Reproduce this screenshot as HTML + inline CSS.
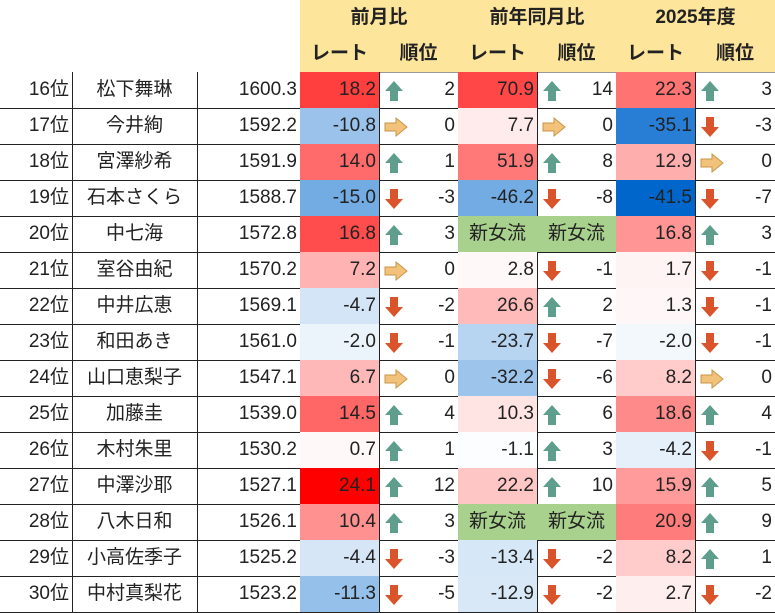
<!DOCTYPE html>
<html><head><meta charset="utf-8"><style>
body{margin:0;width:775px;height:613px;background:#fff;overflow:hidden;font-family:"Liberation Sans","Noto Sans CJK JP",sans-serif;}
#t{position:relative;width:775px;height:613px;}
.c{position:absolute;box-sizing:border-box;border-right:1px solid #222;border-bottom:1px solid #222;font-size:19px;line-height:35px;color:#222;white-space:nowrap;}
.h{background:#fde59c;font-weight:bold;text-align:center;font-size:19px;border-color:#999;}
.r{text-align:right;padding-right:3px;}
.ctr{text-align:center;}
.new{background:#a9d18e;text-align:center;}
svg.a{position:absolute;left:5px;top:8px;}
</style></head><body>
<div id="t"></div>
<script>
const ranks=[16,17,18,19,20,21,22,23,24,25,26,27,28,29,30];
const names=["松下舞琳","今井絢","宮澤紗希","石本さくら","中七海","室谷由紀","中井広恵","和田あき","山口恵梨子","加藤圭","木村朱里","中澤沙耶","八木日和","小高佐季子","中村真梨花"];
const ratings=["1600.3","1592.2","1591.9","1588.7","1572.8","1570.2","1569.1","1561.0","1547.1","1539.0","1530.2","1527.1","1526.1","1525.2","1523.2"];
const momRate=[18.2,-10.8,14.0,-15.0,16.8,7.2,-4.7,-2.0,6.7,14.5,0.7,24.1,10.4,-4.4,-11.3];
const momRank=[2,0,1,-3,3,0,-2,-1,0,4,1,12,3,-3,-5];
const yoyRate=[70.9,7.7,51.9,-46.2,null,2.8,26.6,-23.7,-32.2,10.3,-1.1,22.2,null,-13.4,-12.9];
const yoyRank=[14,0,8,-8,null,-1,2,-7,-6,6,3,10,null,-2,-2];
const ytdRate=[22.3,-35.1,12.9,-41.5,16.8,1.7,1.3,-2.0,8.2,18.6,-4.2,15.9,20.9,8.2,2.7];
const ytdRank=[3,-3,0,-7,3,-1,-1,-1,0,4,-1,5,9,1,-2];

const T=document.getElementById('t');
const X=[0,72,197,300,379,458,537,616,695,775];
const top0=72,RH=36;
function cell(x0,x1,y,h,cls,html,name){
  const d=document.createElement('div');
  d.className='c '+cls;
  d.style.left=x0+'px';d.style.top=y+'px';d.style.width=(x1-x0+1)+'px';d.style.height=(h+1)+'px';
  d.innerHTML=html;
  
  
  T.appendChild(d);return d;
}
// headers
[["前月比",3],["前年同月比",5],["2025年度",7]].forEach(([t,i])=>{
  cell(X[i],X[i+2],0,36,'h',t,'group-header');
  cell(X[i],X[i+1],36,36,'h','レート','rate-header');
  cell(X[i+1],X[i+2],36,36,'h','順位','rank-header');
});
function lerp(a,b,t){return Math.round(a+(b-a)*t);}
function col(v,posK,negMin,negK){
  if(v===null)return null;
  if(v>=0){const t=Math.min(1,v/posK.max)*posK.k;return `rgb(255,${lerp(255,0,t)},${lerp(255,0,t)})`;}
  const t=Math.min(1,v/negMin)*negK;return `rgb(${lerp(255,0,t)},${lerp(255,102,t)},${lerp(255,204,t)})`;
}
function arrow(v){
  if(v>0)return '<svg class="a" width="20" height="22" viewBox="0 0 20 22"><path d="M10 1 L19 11 L14 11 L14 21 L6 21 L6 11 L1 11 Z" fill="#5f9e8c"/></svg>';
  if(v<0)return '<svg class="a" width="20" height="22" viewBox="0 0 20 22"><path d="M10 21 L19 11 L14 11 L14 1 L6 1 L6 11 L1 11 Z" fill="#d9532b"/></svg>';
  return '<svg class="a" width="24" height="20" viewBox="0 0 24 20" style="top:9px"><path d="M1 6 L12 6 L12 1 L23 10 L12 19 L12 14 L1 14 Z" fill="#f2c27a" stroke="#c8964a" stroke-width="1"/></svg>';
}
const cfg=[
  [momRate,momRank,{max:24.1,k:1},-15,0.55],
  [yoyRate,yoyRank,{max:70.9,k:0.72},-46.2,0.55],
  [ytdRate,ytdRank,{max:22.3,k:0.55},-41.5,1]
];
ranks.forEach((r,i)=>{
  const y=top0+i*RH;
  cell(X[0],X[1],y,RH,'r',r+'位','rank-cell');
  cell(X[1],X[2],y,RH,'ctr',names[i],'player-name');
  cell(X[2],X[3],y,RH,'r',ratings[i],'rating-value');
  cfg.forEach(([rates,rks,pk,nm,nk],j)=>{
    const xi=3+j*2;
    const v=rates[i];
    if(v===null){
      cell(X[xi],X[xi+1],y,RH,'new','新女流','new-player-rate');
      cell(X[xi+1],X[xi+2],y,RH,'new','新女流','new-player-rank');
    }else{
      const d=cell(X[xi],X[xi+1],y,RH,'r',v.toFixed(1),'rate-change');
      d.style.background=col(v,pk,nm,nk);
      cell(X[xi+1],X[xi+2],y,RH,'r',arrow(rks[i])+rks[i],'rank-change');
    }
  });
});
</script>
</body></html>
